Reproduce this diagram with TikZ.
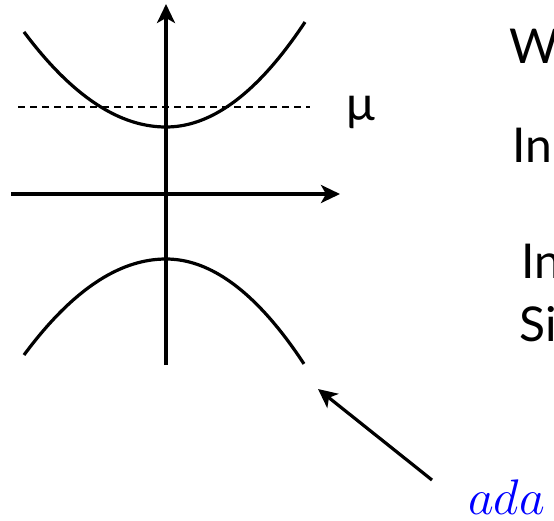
\documentclass[tikz,border=0pt]{standalone}
\usepackage{fix-cm}
\usepackage{fontspec}
\setmainfont{Lato}
\usetikzlibrary{arrows.meta}
\begin{document}
\begin{tikzpicture}[x=1pt,y=-1pt,
  curve/.style={line width=3.2pt},
  axis/.style={line width=3.2pt,-{Stealth[length=19pt,width=18pt,inset=5pt]}},
  lbl/.style={font=\fontsize{48}{58}\selectfont, inner sep=0pt, anchor=base west},
]
\useasboundingbox (0,0) rectangle (554,520);
\clip (0,0) rectangle (554,520);
% axes
\coordinate (vb) at (166,365);
\coordinate (vt) at (166,4);
\coordinate (hl) at (11,194);
\coordinate (hr) at (340,194);
\draw[axis] (vb) -- (vt);
\draw[axis] (hl) -- (hr);
% chemical potential
\coordinate (dl) at (18,107);
\coordinate (dr) at (310,107);
\draw[line width=2.5pt, dash pattern=on 7pt off 5pt] (dl) -- (dr);
% upper band
\draw[curve] plot[domain=24:166, smooth, samples=40] (\x, {127-0.00471*(\x-166)*(\x-166)})
  -- plot[domain=166:305, smooth, samples=40] (\x, {127-0.00543*(\x-166)*(\x-166)});
% lower band
\draw[curve] plot[domain=24:166, smooth, samples=40] (\x, {259+0.00476*(\x-166)*(\x-166)})
  -- plot[domain=166:304, smooth, samples=40] (\x, {259+0.00551*(\x-166)*(\x-166)});
% labels
\node[lbl] (mu) at (346,120) {μ};
\node[lbl] (w) at (509,63) {W};
\node[lbl] (in1) at (512,162) {In};
\node[lbl] (in2) at (521,278) {In};
\node[lbl] (si) at (519,341) {Si};
\node[inner sep=0pt, anchor=base west, text=blue, font=\fontsize{50}{60}\selectfont] (ada) at (468,514) {$ada$};
% pointer
\coordinate (ps) at (432,480);
\coordinate (pt) at (318,389);
\draw[line width=3.2pt,-{Stealth[length=19pt,width=18pt,inset=5pt]}] (ps) -- (pt);
\end{tikzpicture}
\end{document}
